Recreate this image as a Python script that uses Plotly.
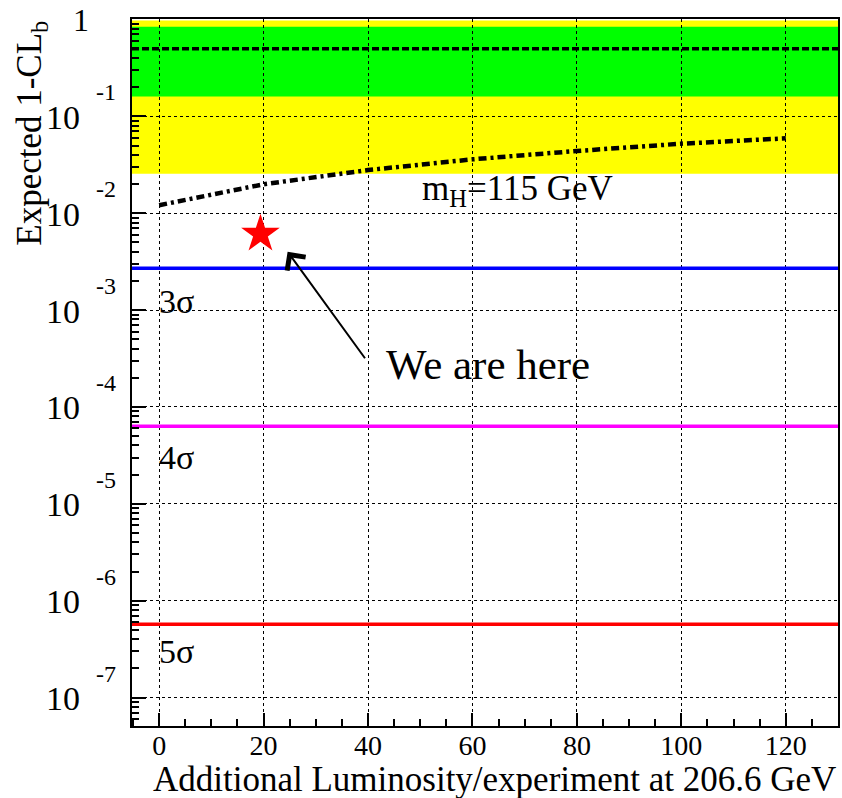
import math
import plotly.graph_objects as go

# ---------------- data ----------------
x_range = [-5.2, 130.0]
y_log_range = [-7.294, 0.005]

lumi = [0, 10, 20, 40, 60, 80, 100, 120]
exp_1mclb = [0.0121, 0.0157, 0.0199, 0.0279, 0.0360, 0.0439, 0.0522, 0.0593]

median_val = 0.5
green_band = [0.160, 0.843]
yellow_band = [0.0255, 0.975]

sigma_labels = ["3σ", "4σ", "5σ"]
sigma_vals = [2.7e-3, 6.3e-5, 5.7e-7]
sigma_colors = ["#0000ff", "#ff00ff", "#ff0000"]

star_x = [19.4]
star_y = [0.0061]

x_ticks = [0, 20, 40, 60, 80, 100, 120]
y_tick_exps = [0, -1, -2, -3, -4, -5, -6, -7]

FONT = "Liberation Serif, Times New Roman, serif"

fig = go.Figure()

# bands on subplot 1 (below the grid of subplot 2)
fig.add_trace(go.Scatter(
    x=[x_range[0], x_range[1], x_range[1], x_range[0]],
    y=[yellow_band[0], yellow_band[0], yellow_band[1], yellow_band[1]],
    fill="toself", fillcolor="#ffff00", mode="lines", line=dict(width=0),
    xaxis="x", yaxis="y", showlegend=False, hoverinfo="skip"))
fig.add_trace(go.Scatter(
    x=[x_range[0], x_range[1], x_range[1], x_range[0]],
    y=[green_band[0], green_band[0], green_band[1], green_band[1]],
    fill="toself", fillcolor="#00ff00", mode="lines", line=dict(width=0),
    xaxis="x", yaxis="y", showlegend=False, hoverinfo="skip"))

# median line
fig.add_trace(go.Scatter(
    x=x_range, y=[median_val, median_val], mode="lines",
    line=dict(color="black", width=3.5, dash="7px,3px"),
    xaxis="x2", yaxis="y2", showlegend=False))

# sigma lines
for v, c in zip(sigma_vals, sigma_colors):
    fig.add_trace(go.Scatter(
        x=x_range, y=[v, v], mode="lines",
        line=dict(color=c, width=3.5),
        xaxis="x2", yaxis="y2", showlegend=False))

# expected curve
fig.add_trace(go.Scatter(
    x=lumi, y=exp_1mclb, mode="lines",
    line=dict(color="black", width=4.5, dash="8px,4px,3px,4px"),
    xaxis="x2", yaxis="y2", showlegend=False))

# star
fig.add_trace(go.Scatter(
    x=star_x, y=star_y, mode="markers",
    marker=dict(symbol="star", size=29, color="#ff0000", line=dict(width=0)),
    xaxis="x2", yaxis="y2", showlegend=False))

minor_y = [m * 10.0 ** e for e in range(-8, 1) for m in range(2, 10)]
minor_y = [v for v in minor_y if y_log_range[0] <= math.log10(v) <= y_log_range[1]]

fig.update_layout(
    width=842, height=798,
    margin=dict(l=132, r=2, t=19, b=72),
    paper_bgcolor="white", plot_bgcolor="rgba(0,0,0,0)",
    xaxis=dict(range=x_range, visible=False, domain=[0, 1], anchor="y"),
    yaxis=dict(type="log", range=y_log_range, visible=False, domain=[0, 1], anchor="x"),
    xaxis2=dict(range=x_range, domain=[0, 1], anchor="y2",
                showline=True, linecolor="black", linewidth=2, mirror=True,
                showgrid=True, gridcolor="black", gridwidth=1, griddash="3px,3px",
                zeroline=False,
                tickmode="array", tickvals=x_ticks,
                ticks="inside", ticklen=13, tickwidth=1.5, tickcolor="black",
                minor=dict(dtick=5, tick0=0, ticks="inside", ticklen=7, tickwidth=1.5,
                           tickcolor="black", showgrid=False),
                tickfont=dict(family=FONT, size=28, color="black"),
                ticklabelstandoff=-7),
    yaxis2=dict(type="log", range=y_log_range, domain=[0, 1], anchor="x2",
                showline=True, linecolor="black", linewidth=2, mirror=True,
                showgrid=True, gridcolor="black", gridwidth=1, griddash="3px,3px",
                zeroline=False,
                tickmode="array", tickvals=[10.0 ** e for e in y_tick_exps],
                ticks="inside", ticklen=14, tickwidth=1.5, tickcolor="black",
                minor=dict(tickmode="array", tickvals=minor_y, ticks="inside", ticklen=7,
                           tickwidth=1.5, tickcolor="black", showgrid=False),
                showticklabels=False),
    showlegend=False,
)

ann = []
# y tick labels
for e in y_tick_exps:
    if e == 0:
        ann.append(dict(text="1", xref="paper", yref="y2", x=0, y=e, xanchor="right",
                        yanchor="middle", xshift=-41, yshift=-1, showarrow=False,
                        font=dict(family=FONT, size=32, color="black")))
    else:
        ann.append(dict(text="10", xref="paper", yref="y2", x=0, y=e, xanchor="right",
                        yanchor="middle", xshift=-50, yshift=-1, showarrow=False,
                        font=dict(family=FONT, size=34, color="black")))
        ann.append(dict(text=str(e), xref="paper", yref="y2", x=0, y=e, xanchor="left",
                        yanchor="middle", xshift=-38, yshift=24, showarrow=False,
                        font=dict(family=FONT, size=24, color="black")))

# sigma labels
sig_label_y = [-2.907, -4.524, -6.52]
for t, yy in zip(sigma_labels, sig_label_y):
    ann.append(dict(text=t, xref="x2", yref="y2", x=-0.5, y=yy, xanchor="left",
                    yanchor="middle", showarrow=False,
                    font=dict(family=FONT, size=34, color="black")))

ann.append(dict(text="m<sub>H</sub>=115 GeV", xref="x2", yref="y2", x=50.0, y=-1.75,
                xanchor="left", yanchor="middle", showarrow=False, yshift=-2,
                font=dict(family=FONT, size=35, color="black")))

ann.append(dict(text="We are here", xref="x2", yref="y2", x=43.0, y=-3.557,
                xanchor="left", yanchor="middle", showarrow=False,
                font=dict(family=FONT, size=43, color="black")))

# arrow
ann.append(dict(text=" ", xref="x2", yref="y2", x=24.6, y=math.log10(0.0040),
                axref="x2", ayref="y2", ax=39.8, ay=math.log10(2.98e-4),
                showarrow=True, arrowhead=4, arrowsize=2.2, arrowwidth=2,
                arrowcolor="black", font=dict(size=2)))

# axis titles
ann.append(dict(text="Additional Luminosity/experiment at 206.6 GeV", xref="paper",
                yref="paper", x=1, y=-0.0755, xanchor="right", yanchor="middle",
                showarrow=False, font=dict(family=FONT, size=35, color="black")))
ann.append(dict(text="Expected 1-CL<sub>b</sub>", xref="paper", yref="paper",
                x=-0.1427, y=1, xanchor="center", yanchor="top", textangle=-90,
                showarrow=False, font=dict(family=FONT, size=35, color="black")))

fig.update_layout(annotations=ann)
fig.write_html("out.html")
